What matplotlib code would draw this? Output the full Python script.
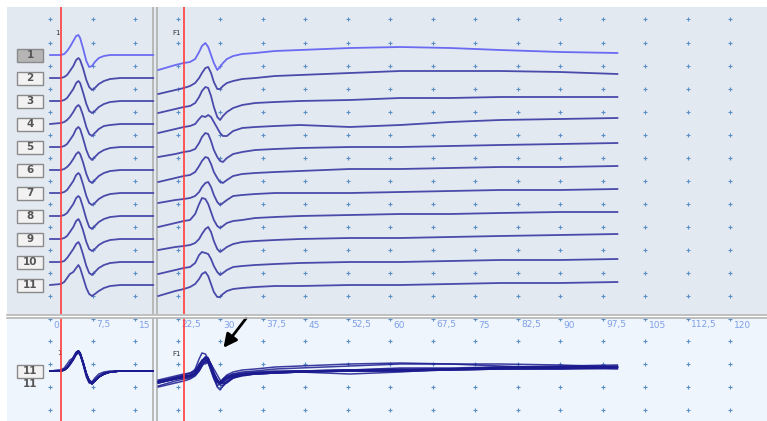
import numpy as np
import matplotlib.pyplot as plt
from matplotlib.patches import Rectangle

# time base (ms) of the digitised samples
m_ms = [0, 1.9, 2.5, 3.0, 3.5, 4.1, 4.6, 5.0, 5.3, 5.8, 6.4, 6.9, 7.4, 7.9, 8.6, 9.5, 10.6, 12.4, 18.2]
f_ms = [19.1, 22.1, 23.6, 24.7, 25.6, 26.3, 26.8, 27.4, 27.9, 28.4, 28.9, 29.5, 30.0, 30.5,
        31.2, 32.3, 33.9, 36.2, 39.7, 44.1, 52.9, 61.8, 70.6, 79.4, 90.0, 100.1]

# M responses (amplitude units, up positive)
m_waves = [
    [0, 0, 1, 4, 8, 14, 19, 20, 17, 7, -6, -12, -11, -7, -3, -1, 0, 0, 0],
    [0, 0, 1, 3, 7, 12, 18, 20, 18, 10, -2, -9, -12, -10, -6, -3, -1, 0, 0],
    [0, 0, 1, 3, 7, 12, 18, 20, 18, 9, -3, -10, -12, -10, -6, -3, -1, 0, 0],
    [0, 1, 2, 4, 7, 12, 17, 19, 17, 9, -3, -10, -12, -9, -5, -2, -1, 0, 0],
    [0, 0, 1, 3, 7, 12, 18, 20, 18, 9, -3, -10, -13, -10, -6, -3, -1, 0, 0],
    [0, 0, 1, 3, 6, 11, 16, 18, 16, 8, -4, -11, -13, -10, -6, -3, -1, 0, 0],
    [0, 0, 1, 3, 7, 12, 18, 20, 18, 9, -3, -10, -12, -10, -6, -3, -1, 0, 0],
    [0, 0, 1, 3, 7, 12, 18, 20, 18, 9, -3, -11, -13, -10, -6, -3, -1, 0, 0],
    [0, 0, 1, 3, 7, 12, 18, 20, 17, 9, -3, -10, -12, -10, -6, -3, -1, 0, 0],
    [0, 0, 1, 4, 8, 13, 18, 20, 17, 8, -4, -11, -13, -10, -6, -3, -1, 0, 0],
    [0, 1, 3, 7, 11, 13, 17, 20, 17, 8, -3, -9, -11, -9, -6, -3, -1, 0, 0],
]

# F responses
f_waves = [
    [-15, -10, -8, -7, -4, 3, 9, 12, 8, 0, -8, -15, -12, -8, -4, -1, 1, 2, 4, 5, 7, 8, 7, 5, 3, 2],
    [-16, -12, -10, -8, -5, 0, 5, 10, 11, 5, -4, -11, -11, -8, -5, -3, -1, 0, 2, 3, 5, 7, 7, 7, 6, 4],
    [-12, -8, -6, -5, -2, 4, 10, 14, 13, 5, -6, -16, -19, -15, -11, -7, -4, -2, -1, 0, 1, 3, 3, 4, 4, 4],
    [-9, -5, -3, -2, 0, 5, 8, 7, 9, 7, 2, -4, -9, -12, -12, -7, -4, -3, -2, -1, -3, -1, 2, 4, 5, 6],
    [-10, -7, -5, -4, -2, 4, 10, 14, 13, 6, -3, -10, -14, -15, -11, -7, -5, -3, -2, -1, 0, 0, 1, 2, 3, 4],
    [-12, -8, -6, -5, -2, 4, 9, 13, 12, 6, -2, -8, -12, -13, -10, -6, -4, -3, -2, -1, 1, 1, 2, 3, 3, 4],
    [-10, -7, -6, -5, -3, 1, 6, 10, 11, 6, -2, -9, -12, -10, -7, -3, -2, -1, 0, 0, 0, 1, 2, 3, 3, 4],
    [-11, -7, -5, -4, 2, 12, 18, 17, 12, 4, -4, -10, -12, -10, -7, -5, -4, -2, -1, 0, 1, 2, 2, 3, 4, 4],
    [-11, -8, -7, -6, -4, 0, 5, 10, 12, 7, -2, -10, -13, -11, -8, -5, -3, -2, -1, 0, 1, 1, 2, 3, 4, 5],
    [-12, -8, -6, -5, -1, 7, 10, 9, 8, 3, -4, -10, -13, -11, -8, -5, -4, -3, -2, -1, 0, 0, 1, 2, 2, 3],
    [-11, -6, -4, -2, 1, 6, 11, 13, 9, 1, -7, -12, -12, -9, -6, -4, -3, -2, -1, -1, 0, 0, 1, 2, 2, 3],
]

trace_labels = [str(i) for i in range(1, 12)]
tick_ms = [0, 7.5, 15, 22.5, 30, 37.5, 45, 52.5, 60, 67.5, 75, 82.5, 90, 97.5, 105, 112.5, 120]
tick_labels = ['0', '7,5', '15', '22,5', '30', '37,5', '45', '52,5', '60', '67,5', '75',
               '82,5', '90', '97,5', '105', '112,5', '120']
cursor_ms = [1.94, 23.65]

ROW = 23
W, H = 767, 421
XL = (-7.6, 126.5)
SEP_MS = [18.2, 18.8]
GRID_C = '#5b8fc7'

fig = plt.figure(figsize=(W / 100, H / 100), dpi=100)
fig.patch.set_facecolor('white')
ax_top = fig.add_axes([7 / W, 1 - 314 / H, 760 / W, 307 / H])
ax_bot = fig.add_axes([7 / W, 0, 760 / W, 103 / H])

for ax, bg in ((ax_top, '#e2e9f1'), (ax_bot, '#eef5fd')):
    ax.set_facecolor(bg)
    ax.set_xlim(*XL)
    ax.set_xticks([])
    ax.set_yticks([])
    for s in ax.spines.values():
        s.set_visible(False)
    for x in SEP_MS:
        ax.axvline(x, color='#b4b4b4', lw=1.3, zorder=1)
    for x in cursor_ms:
        ax.axvline(x, color='#ff3b3b', lw=1.2, zorder=4)

ax_top.set_ylim(-259, 48)
ax_bot.set_ylim(-50, 53)

# "+" grid marks
top_rows = [36] + [12 - ROW * k for k in range(12)]
gx, gy = np.meshgrid(tick_ms, top_rows)
ax_top.scatter(gx.ravel(), gy.ravel(), marker='+', s=11, lw=0.8, color=GRID_C, zorder=2)
bot_rows = [52, 30, 7, -16, -39]
gx, gy = np.meshgrid(tick_ms, bot_rows)
ax_bot.scatter(gx.ravel(), gy.ravel(), marker='+', s=11, lw=0.8, color=GRID_C, zorder=2)

# top panel: individual traces
for i, (mw, fw) in enumerate(zip(m_waves, f_waves)):
    col = '#6b6bf2' if i == 0 else '#4a4aaa'
    ax_top.plot(m_ms, np.array(mw) - ROW * i, color=col, lw=1.3, zorder=3)
    ax_top.plot(f_ms, np.array(fw) - ROW * i, color=col, lw=1.3, zorder=3)
    fc = '#b5b5b5' if i == 0 else '#f2f2f2'
    ax_top.add_patch(Rectangle((-5.8, -ROW * i - 6.5), 4.6, 13, facecolor=fc,
                               edgecolor='#8a8a8a', lw=1, zorder=3))
    ax_top.text(-3.5, -ROW * i, trace_labels[i], ha='center', va='center',
                fontsize=7.5, fontweight='bold', color='#555555', zorder=4)

ax_top.text(0.9, 22, '1', fontsize=5, color='#333333', va='center')
ax_top.text(21.6, 22, 'F1', fontsize=5, color='#333333', va='center')

# bottom panel: superimposed traces
for mw, fw in zip(m_waves, f_waves):
    ax_bot.plot(m_ms, mw, color='#1b1b8f', lw=1.1, alpha=0.85, zorder=3)
    ax_bot.plot(f_ms, fw, color='#1b1b8f', lw=1.1, alpha=0.85, zorder=3)

for t, lab in zip(tick_ms, tick_labels):
    ax_bot.text(t + 0.6, 46, lab, fontsize=6.5, color='#7f9fe6', ha='left', va='center')

ax_bot.add_patch(Rectangle((-5.8, -6.5), 4.6, 13, facecolor='#f2f2f2',
                           edgecolor='#8a8a8a', lw=1, zorder=3))
ax_bot.text(-3.5, 0, '11', ha='center', va='center', fontsize=7.5, fontweight='bold',
            color='#555555', zorder=4)
ax_bot.text(-3.5, -13, '11', ha='center', va='center', fontsize=7.5, fontweight='bold',
            color='#555555')
ax_bot.text(1.2, 18, '1', fontsize=5, color='#333333', va='center')
ax_bot.text(21.6, 17, 'F1', fontsize=5, color='#333333', va='center')

# separators between the two panels
for ypx in (315, 317.5):
    fig.add_artist(plt.Line2D([7 / W, 1], [1 - ypx / H] * 2, color='#b4b4b4', lw=1.2))

ann = ax_bot.annotate('', xy=(30.3, 21), xytext=(34.9, 55),
                      arrowprops=dict(arrowstyle='-|>', color='black', lw=2, mutation_scale=20),
                      annotation_clip=False, zorder=10)
ann.arrow_patch.set_clip_on(False)

fig.savefig('out.png', dpi=100)
